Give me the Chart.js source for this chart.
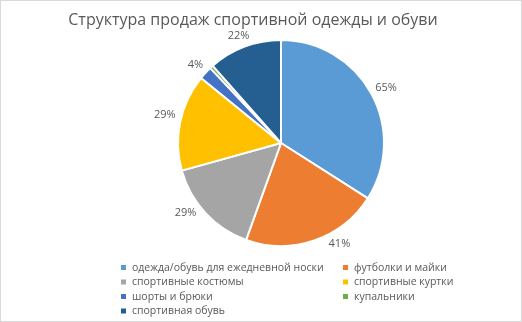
<!DOCTYPE html>
<html>
<head>
<meta charset="utf-8">
<script src="https://cdn.jsdelivr.net/npm/chart.js@4"></script>
<style>
  html, body { margin: 0; padding: 0; background: #fff; }
  #wrap { width: 522px; height: 322px; box-sizing: border-box; border: 1px solid #d9d9d9; }
</style>
</head>
<body>
<div id="wrap"><canvas id="chart" width="520" height="320"></canvas></div>
<script>
const chartTitle = 'Структура продаж спортивной одежды и обуви';
const categories = [
    'одежда/обувь для ежедневной носки',
    'футболки и майки',
    'спортивные костюмы',
    'спортивные куртки',
    'шорты и брюки',
    'купальники',
    'спортивная обувь'
];
const shares = [65, 41, 29, 29, 4, 1, 22];
const shareLabels = ['65%', '41%', '29%', '29%', '4%', '', '22%'];
const sliceColors = ['#5B9BD5', '#ED7D31', '#A5A5A5', '#FFC000', '#4472C4', '#70AD47', '#255E91'];

const TEXT_COLOR = '#595959';

// título, etiquetas de datos y leyenda al estilo Excel
const excelDecor = {
    id: 'excelDecor',
    afterDraw: (chart) => {
        const ctx = chart.ctx;
        ctx.save();

        // título
        ctx.fillStyle = TEXT_COLOR;
        ctx.font = '16px "Open Sans"';
        ctx.textAlign = 'center';
        ctx.textBaseline = 'middle';
        ctx.fillText(chartTitle, 252, 19);

        // etiquetas fuera del sector (Excel las acomoda un poco)
        const nudge = [0, -0.18, 0.1, 0.04, 0, 0, 0];
        ctx.font = '11px "Open Sans"';
        const meta = chart.getDatasetMeta(0);
        meta.data.forEach((arc, i) => {
            const text = shareLabels[i];
            if (!text) return;
            const mid = (arc.startAngle + arc.endAngle) / 2 + nudge[i];
            const cos = Math.cos(mid), sin = Math.sin(mid);
            const r = arc.outerRadius + 6;
            const w = ctx.measureText(text).width;
            const x = arc.x + cos * r + cos * w / 2;
            const y = arc.y + sin * r + sin * 6;
            ctx.fillText(text, x, y);
        });

        // leyenda en dos columnas
        ctx.font = '10.5px "Open Sans"';
        ctx.textAlign = 'left';
        const colX = [122, 344];
        const rowY0 = 267, rowStep = 14.5;
        categories.forEach((cat, i) => {
            const col = i % 2, row = Math.floor(i / 2);
            const x = colX[col], y = rowY0 + row * rowStep;
            ctx.fillStyle = sliceColors[i];
            ctx.fillRect(x - 2, y - 3, 5, 5);
            ctx.fillStyle = TEXT_COLOR;
            ctx.fillText(cat, x + 9, y);
        });

        ctx.restore();
    }
};

new Chart(document.getElementById('chart'), {
    type: 'pie',
    data: {
        labels: categories,
        datasets: [{
            data: shares,
            backgroundColor: sliceColors,
            borderColor: '#ffffff',
            borderWidth: 2
        }]
    },
    options: {
        responsive: false,
        animation: false,
        layout: { padding: { top: 38, bottom: 74, left: 60, right: 20 } },
        plugins: {
            legend: { display: false },
            tooltip: { enabled: false },
            title: { display: false }
        }
    },
    plugins: [excelDecor]
});
</script>
</body>
</html>
